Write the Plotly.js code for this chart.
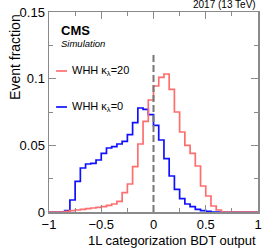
<!DOCTYPE html>
<html><head><meta charset="utf-8">
<script src="https://cdn.plot.ly/plotly-3.0.1.min.js"></script>
<style>html,body{margin:0;padding:0;background:#fff}</style>
</head><body><div id="chart" style="width:266px;height:250px"></div>
<script>
// Histogram binning: 40 bins of width 0.05 from -1 to 1
const binStart = -1;
const binWidth = 0.05;
// WHH kappa_lambda = 0 (blue), event fraction per bin
const whhKl0 = [0,0,0,0.001, 0.009,0.023,0.033,0.036,0.0365,0.039,0.044,0.048,0.049,0.051,0.053,0.058,0.067,0.078,0.077,0.073,
  0.065,0.054,0.040,0.027,0.017,0.010,0.006,0.004,0.002,0.001,0.0005, 0,0,0,0,0,0,0,0,0];
// WHH kappa_lambda = 20 (red), event fraction per bin
const whhKl20 = [0,0,0,0.0005,0.001,0.0015,0.002,0.0025,0.003,0.0035,0.004,0.005,0.006,0.008,0.0145,0.021,0.034,0.051,0.068,0.084,
  0.0945,0.101,0.1035,0.092,0.075,0.060,0.050,0.044,0.0345,0.0195,0.012,0.0045,0.0015, 0,0,0,0,0,0,0];
const seriesNames = ['WHH κ<sub>λ</sub>=0', 'WHH κ<sub>λ</sub>=20'];
const xTitle = '1L categorization BDT output';
const yTitle = 'Event fraction';

function stepTrace(vals, color, name){
  const xs = [], ys = [];
  for (let i = 0; i < vals.length; i++){ xs.push(binStart + i*binWidth); ys.push(vals[i]); }
  xs.push(binStart + vals.length*binWidth); ys.push(vals[vals.length-1]);
  return {x: xs, y: ys, type: 'scatter', mode: 'lines', line: {shape: 'hv', color: color, width: 1.7}, name: name, hoverinfo: 'skip'};
}

const blue = '#1010ff', red = '#ff6e6e', frame = '#8a8a8a';
const data = [stepTrace(whhKl0, blue, seriesNames[0]), stepTrace(whhKl20, red, seriesNames[1])];

const axisCommon = {
  ticks: 'inside', ticklen: 7, tickwidth: 1, tickcolor: frame,
  showline: true, linecolor: frame, linewidth: 1.5, mirror: 'ticks',
  showgrid: false, zeroline: false, tickfont: {size: 13, color: '#000'}
};
const layout = {
  width: 266, height: 250,
  margin: {l: 49, r: 8, t: 12, b: 38},
  paper_bgcolor: '#fff', plot_bgcolor: '#fff',
  showlegend: false,
  font: {family: '"Liberation Sans", Arial, sans-serif', size: 13, color: '#000'},
  xaxis: Object.assign({}, axisCommon, {range: [-1, 1], tick0: -1, dtick: 0.5,
    minor: {dtick: 0.25, ticks: 'inside', ticklen: 4, tickcolor: frame, showgrid: false}}),
  yaxis: Object.assign({}, axisCommon, {range: [0, 0.15], tick0: 0, dtick: 0.05,
    minor: {dtick: 0.025, ticks: 'inside', ticklen: 4, tickcolor: frame, showgrid: false}}),
  shapes: [
    {type: 'line', xref: 'x', yref: 'y', x0: 0, x1: 0, y0: 0, y1: 0.12, layer: 'above',
     line: {color: '#777', width: 2, dash: '7px,3px'}},
    {type: 'line', xref: 'paper', yref: 'paper', x0: 0.034, x1: 0.086, y0: 0.705, y1: 0.705, line: {color: red, width: 1.7}},
    {type: 'line', xref: 'paper', yref: 'paper', x0: 0.034, x1: 0.086, y0: 0.525, y1: 0.525, line: {color: blue, width: 1.7}}
  ],
  annotations: [
    {text: '2017 (13 TeV)', xref: 'paper', yref: 'paper', x: 1, y: 1, xanchor: 'right', yanchor: 'bottom', showarrow: false, font: {size: 10}},
    {text: '<b>CMS</b>', xref: 'paper', yref: 'paper', x: 0.05, y: 0.905, xanchor: 'left', yanchor: 'middle', showarrow: false, font: {size: 13}},
    {text: '<i>Simulation</i>', xref: 'paper', yref: 'paper', x: 0.05, y: 0.845, xanchor: 'left', yanchor: 'middle', showarrow: false, font: {size: 9.5}},
    {text: seriesNames[1], xref: 'paper', yref: 'paper', x: 0.1, y: 0.705, xanchor: 'left', yanchor: 'middle', showarrow: false, font: {size: 11}},
    {text: seriesNames[0], xref: 'paper', yref: 'paper', x: 0.1, y: 0.525, xanchor: 'left', yanchor: 'middle', showarrow: false, font: {size: 11}},
    {text: xTitle, xref: 'paper', yref: 'paper', x: 1, y: -0.14, xanchor: 'right', yanchor: 'middle', showarrow: false, font: {size: 13}},
    {text: yTitle, xref: 'paper', yref: 'paper', x: -0.163, y: 1, xanchor: 'center', yanchor: 'top', textangle: -90, showarrow: false, font: {size: 14}}
  ]
};
Plotly.newPlot('chart', data, layout, {staticPlot: true, displayModeBar: false});
</script></body></html>
